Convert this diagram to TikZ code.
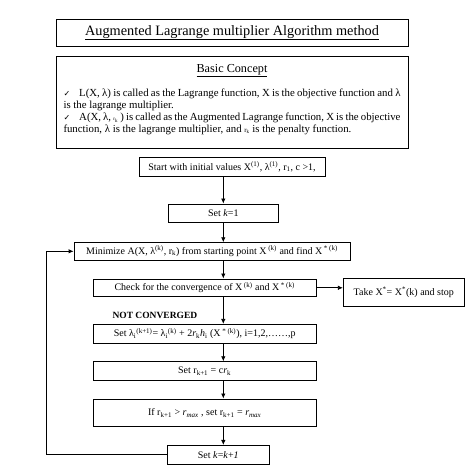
\documentclass[tikz,border=0pt]{standalone}
\usepackage{fontspec}
\setmainfont{Liberation Serif}
\newfontfamily\tickfont{DejaVu Sans}
\usepackage{tikz}
\usetikzlibrary{arrows.meta}

\begin{document}
\begin{tikzpicture}[x=1pt,y=-1pt]%
\tikzstyle{headbox} = [draw, line width=0.9pt, rectangle, inner sep=0pt]
\tikzstyle{stepbox} = [draw, line width=0.8pt, rectangle, inner sep=1pt,
    font=\fontsize{10}{11}\selectfont]
\tikzstyle{flow} = [line width=0.8pt, -{Latex[length=5pt,width=4.5pt]}]
\useasboundingbox (0,0) rectangle (474,474);

\node [headbox, minimum width=352pt, minimum height=27.5pt,
    font=\fontsize{14.3}{16}\selectfont] (title) at (232,32.75)
    {\underline{Augmented Lagrange multiplier Algorithm method}};

\node [headbox, minimum width=352pt, minimum height=92.5pt] (concept) at (232,102.25){%
    \begin{minipage}{337pt}
      \fontsize{10.8}{12}\selectfont
      {\centering\fontsize{12.2}{13}\selectfont\underline{Basic Concept}\par}
      \vspace{11pt}
      \noindent
      {\tickfont\footnotesize ✓}\hspace{9pt}L(X, λ) is called as the Lagrange function, X is the objective function and λ\linebreak
      is the lagrange multiplier.\par\noindent
      {\tickfont\footnotesize ✓}\hspace{9pt}A(X, λ, {\tiny r\textsubscript{k}} ) is called as the Augmented Lagrange function, X is the objective\linebreak
      function, λ is the lagrange multiplier, and {\scriptsize r\textsubscript{k}} is the penalty function.\par
      \vspace{5pt}
    \end{minipage}
};

% flow chart
\coordinate (spine) at (223.3,0);
\coordinate (loop) at (46.7,350);

\node [stepbox, minimum width=186pt, minimum height=19.7pt] (start) at (232,166.8)
    {Start with initial values X\textsuperscript{(1)}, λ\textsuperscript{(1)}, r\textsubscript{1}, c >1,};
\node [stepbox, minimum width=110pt, minimum height=18.7pt] (setk) at (223.3,213.3)
    {Set \textit{k}=1};
\node [stepbox, minimum width=276pt, minimum height=17.3pt] (minim) at (212,251.3)
    {Minimize A(X, λ\textsuperscript{(k)}, r\textsubscript{k}) from starting point X\,\textsuperscript{(k)} and find X\,\textsuperscript{* (k)}};
\node [stepbox, minimum width=222.7pt, minimum height=17.7pt] (check) at (204.7,287.8)
    {Check for the convergence of X\,\textsuperscript{(k)} and X\,\textsuperscript{* (k)}};
\node [stepbox, minimum width=121pt, minimum height=27.7pt] (take) at (403.8,292.2)
    {Take X\textsuperscript{*}= X\textsuperscript{*}(k) and stop};
\node [anchor=west, font=\fontsize{9.5}{10}\selectfont\bfseries] (notconv) at (109,315.7)
    {NOT CONVERGED};
\node [stepbox, minimum width=222.7pt, minimum height=19pt] (lam) at (204.7,333.8)
    {Set λ\textsubscript{i}\textsuperscript{(k+1)}= λ\textsubscript{i}\textsuperscript{(k)} + 2\textit{r}\textsubscript{k}\textit{h}\textsubscript{i} (X\,\textsuperscript{* (k)}), i=1,2,……,p};
\node [stepbox, minimum width=222.7pt, minimum height=19pt] (rk) at (204.7,371.2)
    {Set r\textsubscript{k+1} = c\textit{r}\textsubscript{k}};
\node [stepbox, minimum width=222.7pt, minimum height=27.7pt] (ifr) at (204.7,412.8)
    {If r\textsubscript{k+1} > \textit{r}\textsubscript{\textit{max}} , set r\textsubscript{k+1} = \textit{r}\textsubscript{\textit{max}}};
\node [stepbox, minimum width=102pt, minimum height=18.7pt] (kk1) at (218.3,454.7)
    {Set \textit{k}=\textit{k}+\textit{1}};

\draw [flow] (start.south -| spine) -- (setk.north -| spine);
\draw [flow] (setk.south -| spine) -- (minim.north -| spine);
\draw [flow] (minim.south -| spine) -- (check.north -| spine);
\draw [flow] (check.south -| spine) -- (lam.north -| spine);
\draw [flow] (lam.south -| spine) -- (rk.north -| spine);
\draw [flow] (rk.south -| spine) -- (ifr.north -| spine);
\draw [flow] (ifr.south -| spine) -- (kk1.north -| spine);
\draw [flow] (check.east) -- (check.east -| take.west);
\draw [flow] (kk1.west) -| (loop) |- (minim.west);
\end{tikzpicture}
\end{document}
